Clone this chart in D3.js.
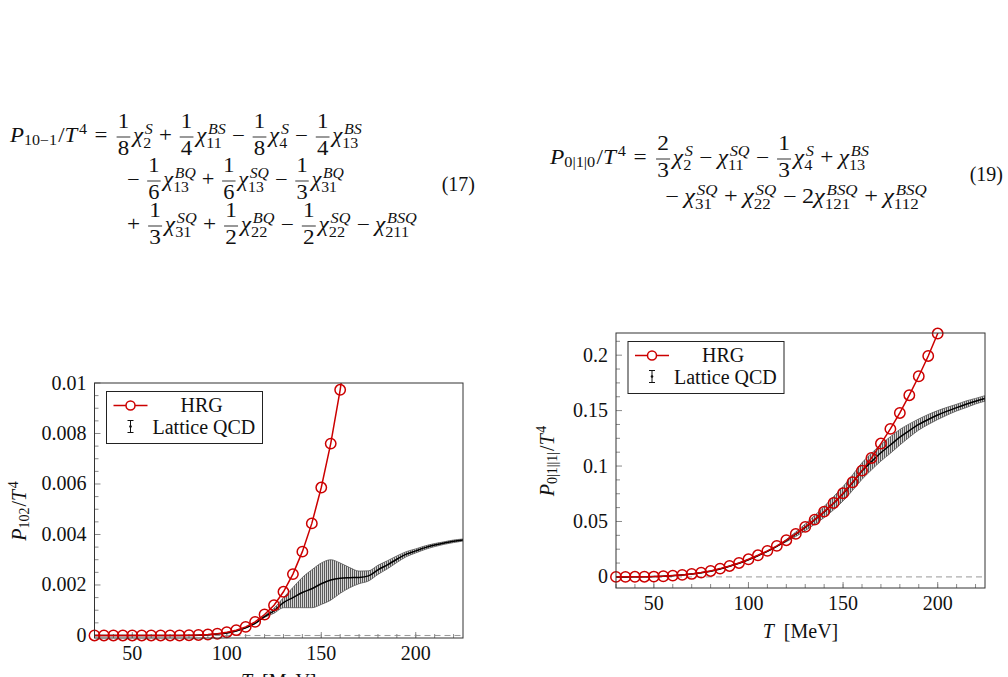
<!DOCTYPE html>
<html>
<head>
<meta charset="utf-8">
<script src="https://cdn.jsdelivr.net/npm/d3@7"></script>
<style>
  body { margin: 0; background: #fff; }
  svg text { font-family: 'Liberation Serif', 'DejaVu Serif', serif; fill: #111; }
</style>
</head>
<body>
<script>
// temperatures in MeV
const latticeT = [30, 35, 40, 45, 50, 55, 60, 65, 70, 75, 80, 85, 90, 95, 100, 105, 110, 115, 120, 125,
    130, 135, 140, 145, 150, 155, 160, 165, 170, 175, 180, 185, 190, 195, 200, 205, 210, 215, 220, 225];
const hrgT102 = [30, 35, 40, 45, 50, 55, 60, 65, 70, 75, 80, 85, 90, 95, 100, 105, 110, 115, 120, 125,
    130, 135, 140, 145, 150, 155, 160, 165];
const hrgT0110 = [30, 35, 40, 45, 50, 55, 60, 65, 70, 75, 80, 85, 90, 95, 100, 105, 110, 115, 120, 125,
    130, 135, 140, 145, 150, 155, 160, 165, 170, 175, 180, 185, 190, 195, 200, 205];

// P_102 / T^4
const hrg102 = [0, 0, 0, 0, 0, 0, 0, 0, 0, 0, 0.00001, 0.00002, 0.00004, 0.00007, 0.00013, 0.00021, 0.00034, 0.00054,
    0.00083, 0.0012, 0.00173, 0.00243, 0.00332, 0.00444, 0.00586, 0.0076, 0.00973, 0.0123];
const lqcd102 = [0, 0, 0, 0, 0, 0, 0, 0, 0, 0, 0, 0.00001, 0.00003, 0.00006, 0.0001, 0.00018, 0.0003, 0.00048,
    0.00075, 0.00098, 0.0013, 0.0015, 0.0017, 0.00185, 0.00205, 0.0022, 0.00227, 0.00229, 0.0023, 0.00236,
    0.0026, 0.0028, 0.00302, 0.00322, 0.00335, 0.00348, 0.00358, 0.00366, 0.00373, 0.00378];
const lqcd102Err = [0, 0, 0, 0, 0, 0, 0, 0, 0, 0, 0, 0, 0, 0, 0, 0, 0, 0,
    0.00003, 0.0001, 0.0002, 0.0004, 0.0006, 0.00075, 0.00082, 0.0008, 0.0006, 0.0004, 0.00025, 0.0002,
    0.00018, 0.00016, 0.00013, 0.0001, 0.00008, 0.00007, 0.00006, 0.00005, 0.00005, 0.00004];

// P_0|1||1| / T^4
const hrg0110 = [0, 0.00005, 0.0001, 0.0002, 0.0003, 0.0006, 0.0012, 0.0018, 0.0027, 0.0039, 0.0054, 0.0075,
    0.0099, 0.0126, 0.0159, 0.0195, 0.0235, 0.028, 0.0331, 0.0388, 0.0451, 0.0517, 0.0589, 0.0667, 0.0755,
    0.0854, 0.0959, 0.1073, 0.1203, 0.1335, 0.1479, 0.1639, 0.181, 0.1993, 0.2195, 0.241];
const lqcd0110 = [0, 0, 0.0001, 0.0002, 0.0003, 0.0006, 0.0011, 0.0017, 0.0026, 0.0037, 0.0052, 0.0072,
    0.0096, 0.0123, 0.0155, 0.0191, 0.0231, 0.0276, 0.0327, 0.0385, 0.0447, 0.0515, 0.0585, 0.0665, 0.075,
    0.085, 0.0955, 0.104, 0.112, 0.119, 0.126, 0.132, 0.1375, 0.142, 0.146, 0.1495, 0.1527, 0.1557, 0.1585, 0.161];
const lqcd0110Err = [0, 0, 0, 0, 0, 0, 0, 0, 0, 0, 0, 0, 0, 0, 0, 0, 0, 0,
    0.001, 0.002, 0.003, 0.004, 0.005, 0.006, 0.0065, 0.007, 0.0075, 0.0075, 0.0075, 0.0075,
    0.007, 0.006, 0.005, 0.0045, 0.004, 0.0035, 0.003, 0.003, 0.0025, 0.0025];

const xTicks = [50, 100, 150, 200];
const yTicks102 = [0, 0.002, 0.004, 0.006, 0.008, 0.01];
const yTickLabels102 = ['0', '0.002', '0.004', '0.006', '0.008', '0.01'];
const yTicks0110 = [0, 0.05, 0.1, 0.15, 0.2];
const yTickLabels0110 = ['0', '0.05', '0.1', '0.15', '0.2'];

const width = 1008, height = 677;
const FS = 20;
const red = '#cc0000';

let svg = d3.select('body').append('svg')
    .attr('width', width)
    .attr('height', height);

let defs = svg.append('defs');
let pat = defs.append('pattern').attr('id', 'bars')
    .attr('patternUnits', 'userSpaceOnUse')
    .attr('width', 2).attr('height', 4);
pat.append('rect').attr('width', 2).attr('height', 4).attr('fill', '#d4d4d4');
pat.append('rect').attr('width', 1).attr('height', 4).attr('fill', '#5a5a5a');

// tiny math typesetter: \f{a}{b} fractions, ^{..} _{..} scripts
function tex(g, x, y, src, fs) {
    const sfs = fs * 0.7;
    const toks = src.match(/\\f\{[^}]*\}\{[^}]*\}|\^\{[^}]*\}|_\{[^}]*\}|[=+−]|\s|./g);
    let cx = x;

    function run(str, px, py, size) {
        let w = 0;
        (str.match(/[A-Za-zχ]+|[^A-Za-zχ]+/g) || []).forEach(part => {
            let it = /[A-Za-zχ]/.test(part[0]);
            let t = g.append('text').attr('x', px + w).attr('y', py)
                .attr('font-size', size)
                .style('font-style', it ? 'italic' : 'normal')
                .text(part);
            w += t.node().getComputedTextLength();
        });
        return w;
    }
    function measure(str, size) {
        let tmp = g.append('g');
        let w = 0;
        (str.match(/[A-Za-zχ]+|[^A-Za-zχ]+/g) || []).forEach(part => {
            let t = tmp.append('text').attr('font-size', size)
                .style('font-style', /[A-Za-zχ]/.test(part[0]) ? 'italic' : 'normal').text(part);
            w += t.node().getComputedTextLength();
        });
        tmp.remove();
        return w;
    }

    for (let i = 0; i < toks.length; i++) {
        let tk = toks[i];
        if (tk.startsWith('\\f')) {
            let m = tk.match(/\\f\{([^}]*)\}\{([^}]*)\}/);
            let wn = measure(m[1], fs), wd = measure(m[2], fs);
            let w = Math.max(wn, wd) + 2;
            cx += 0.12 * fs;
            run(m[1], cx + (w - wn) / 2, y - 0.7 * fs, fs);
            run(m[2], cx + (w - wd) / 2, y + 0.65 * fs, fs);
            g.append('line').attr('x1', cx).attr('x2', cx + w)
                .attr('y1', y - 0.25 * fs).attr('y2', y - 0.25 * fs)
                .attr('stroke', '#111').attr('stroke-width', 0.8);
            cx += w + 0.12 * fs;
        } else if (tk[0] === '^' || tk[0] === '_') {
            let sup = null, sub = null;
            if (tk[0] === '^') sup = tk.slice(2, -1); else sub = tk.slice(2, -1);
            let nx = toks[i + 1];
            if (nx && (nx[0] === '^' || nx[0] === '_') && nx[0] !== tk[0]) {
                if (nx[0] === '^') sup = nx.slice(2, -1); else sub = nx.slice(2, -1);
                i++;
            }
            let both = sup !== null && sub !== null;
            let ws = 0, wb = 0;
            if (sup !== null) ws = run(sup, cx + 1.5, y - 0.42 * fs, sfs);
            if (sub !== null) wb = run(sub, cx, y + (both ? 0.3 : 0.17) * fs, sfs);
            cx += Math.max(ws + 1.5, wb) + 1;
        } else if (tk === '=' || tk === '+' || tk === '−') {
            let sp = (tk === '=' ? 0.28 : 0.22) * fs;
            cx += sp;
            cx += run(tk, cx, y, fs);
            cx += sp;
        } else if (tk === ' ') {
            cx += 0.25 * fs;
        } else {
            cx += run(tk, cx, y, fs);
        }
    }
    return cx - x;
}

// one displayed row, stretched to the width of the typeset original
function texRow(x, y, src, right) {
    let row = svg.append('g');
    let inner = row.append('g');
    let w = tex(inner, 0, y, src, FS);
    let s = (right - x) / w;
    inner.attr('transform', `translate(${x},0) scale(${s},1)`);
}

texRow(10, 142, 'P_{10−1}/T^{4}=\\f{1}{8}χ^{S}_{2}+\\f{1}{4}χ^{BS}_{11}−\\f{1}{8}χ^{S}_{4}−\\f{1}{4}χ^{BS}_{13}', 363);
texRow(122, 186, '−\\f{1}{6}χ^{BQ}_{13}+\\f{1}{6}χ^{SQ}_{13}−\\f{1}{3}χ^{BQ}_{31}', 345);
texRow(122, 231, '+\\f{1}{3}χ^{SQ}_{31}+\\f{1}{2}χ^{BQ}_{22}−\\f{1}{2}χ^{SQ}_{22}−χ^{BSQ}_{211}', 418);
svg.append('text').attr('x', 475).attr('y', 191).attr('text-anchor', 'end').attr('font-size', FS).text('(17)');

texRow(550, 164, 'P_{0|1|0}/T^{4}=\\f{2}{3}χ^{S}_{2}−χ^{SQ}_{11}−\\f{1}{3}χ^{S}_{4}+χ^{BS}_{13}', 870);
texRow(660, 203, '−χ^{SQ}_{31}+χ^{SQ}_{22}−2χ^{BSQ}_{121}+χ^{BSQ}_{112}', 928);
svg.append('text').attr('x', 1003).attr('y', 181).attr('text-anchor', 'end').attr('font-size', FS).text('(19)');

function chart(cfg) {
    let x = d3.scaleLinear().domain([30, 225]).range([cfg.x0, cfg.x1]);
    let y = d3.scaleLinear().domain(cfg.yDomain).range([cfg.y1, cfg.y0]);
    let g = svg.append('g');
    let clipId = 'clip' + cfg.id;
    defs.append('clipPath').attr('id', clipId).append('rect')
        .attr('x', cfg.x0).attr('y', cfg.y0)
        .attr('width', cfg.x1 - cfg.x0).attr('height', cfg.y1 - cfg.y0);

    // zero line
    g.append('line').attr('x1', cfg.x0).attr('x2', cfg.x1)
        .attr('y1', y(0)).attr('y2', y(0))
        .attr('stroke', '#999').attr('stroke-dasharray', '6,4');

    // minor + major ticks (inside)
    let yMinor = d3.range(0, cfg.yDomain[1] + 1e-9, cfg.yMinorStep);
    let tickG = g.append('g').attr('stroke', '#8a8a8a').attr('stroke-width', 1);
    yMinor.forEach(v => {
        let major = cfg.yTicks.some(t => Math.abs(t - v) < 1e-9);
        tickG.append('line').attr('x1', cfg.x0).attr('x2', cfg.x0 + (major ? 6 : 4))
            .attr('y1', y(v)).attr('y2', y(v));
    });
    d3.range(30, 226, 10).forEach(v => {
        tickG.append('line').attr('y1', cfg.y1).attr('y2', cfg.y1 - 4)
            .attr('x1', x(v)).attr('x2', x(v));
    });
    xTicks.forEach(v => {
        tickG.append('line').attr('y1', cfg.y1).attr('y2', cfg.y1 - 6)
            .attr('x1', x(v)).attr('x2', x(v));
    });

    // tick labels
    xTicks.forEach(v => {
        g.append('text').attr('x', x(v)).attr('y', cfg.y1 + 22)
            .attr('text-anchor', 'middle').attr('font-size', FS).text(v);
    });
    cfg.yTicks.forEach((v, i) => {
        g.append('text').attr('x', cfg.x0 - 8).attr('y', y(v) + 6.5)
            .attr('text-anchor', 'end').attr('font-size', FS).text(cfg.yTickLabels[i]);
    });

    // lattice band
    let plot = g.append('g').attr('clip-path', `url(#${clipId})`);
    let pts = latticeT.map((t, i) => ({t, m: cfg.lqcd[i], e: cfg.lqcdErr[i]}));
    let band = d3.area().x(d => x(d.t)).y0(d => y(d.m - d.e)).y1(d => y(d.m + d.e))
        .curve(d3.curveMonotoneX);
    plot.append('path').attr('d', band(pts)).attr('fill', 'url(#bars)');
    let edgeHi = d3.line().x(d => x(d.t)).y(d => y(d.m + d.e)).curve(d3.curveMonotoneX);
    let edgeLo = d3.line().x(d => x(d.t)).y(d => y(d.m - d.e)).curve(d3.curveMonotoneX);
    plot.append('path').attr('d', edgeHi(pts)).attr('fill', 'none').attr('stroke', '#555').attr('stroke-width', 0.8);
    plot.append('path').attr('d', edgeLo(pts)).attr('fill', 'none').attr('stroke', '#555').attr('stroke-width', 0.8);
    let mid = d3.line().x(d => x(d.t)).y(d => y(d.m)).curve(d3.curveMonotoneX);
    plot.append('path').attr('d', mid(pts)).attr('fill', 'none').attr('stroke', '#000').attr('stroke-width', 1.5);

    // HRG
    let hp = cfg.hrgT.map((t, i) => ({t, v: cfg.hrg[i]}));
    let hl = d3.line().x(d => x(d.t)).y(d => y(d.v));
    plot.append('path').attr('d', hl(hp)).attr('fill', 'none').attr('stroke', red).attr('stroke-width', 1.5);
    g.selectAll(null).data(hp.filter(d => d.v <= cfg.yDomain[1])).enter().append('circle')
        .attr('cx', d => x(d.t)).attr('cy', d => y(d.v)).attr('r', 5.2)
        .attr('fill', 'none').attr('stroke', red).attr('stroke-width', 1.5);

    // frame
    g.append('rect').attr('x', cfg.x0).attr('y', cfg.y0)
        .attr('width', cfg.x1 - cfg.x0).attr('height', cfg.y1 - cfg.y0)
        .attr('fill', 'none').attr('stroke', '#333').attr('stroke-width', 1);

    // legend
    let lx = cfg.x0 + 12, ly = cfg.y0 + 8.5;
    let lg = g.append('g').attr('transform', `translate(${lx},${ly})`);
    lg.append('rect').attr('width', 156).attr('height', 52)
        .attr('fill', '#fff').attr('stroke', '#222').attr('stroke-width', 1);
    lg.append('line').attr('x1', 7).attr('x2', 41).attr('y1', 14).attr('y2', 14)
        .attr('stroke', red).attr('stroke-width', 1.5);
    lg.append('circle').attr('cx', 24).attr('cy', 14).attr('r', 4.5)
        .attr('fill', '#fff').attr('stroke', red).attr('stroke-width', 1.5);
    lg.append('text').attr('x', 74).attr('y', 20.5).attr('font-size', FS).text('HRG');
    let eb = lg.append('g').attr('stroke', '#111').attr('stroke-width', 1);
    eb.append('line').attr('x1', 24).attr('x2', 24).attr('y1', 29).attr('y2', 41);
    eb.append('line').attr('x1', 21).attr('x2', 27).attr('y1', 29).attr('y2', 29);
    eb.append('line').attr('x1', 21).attr('x2', 27).attr('y1', 41).attr('y2', 41);
    lg.append('circle').attr('cx', 24).attr('cy', 35).attr('r', 1.3).attr('fill', '#111');
    lg.append('text').attr('x', 46).attr('y', 42).attr('font-size', FS).text('Lattice QCD');

    // x label
    let xl = g.append('text').attr('x', (cfg.x0 + cfg.x1) / 2).attr('y', cfg.y1 + 50)
        .attr('text-anchor', 'middle').attr('font-size', FS);
    xl.append('tspan').style('font-style', 'italic').text('T');
    xl.append('tspan').text('\u2002[MeV]');

    // y label
    let yg = g.append('g').attr('transform', `translate(${cfg.yLabelX},${(cfg.y0 + cfg.y1) / 2}) rotate(-90)`);
    let inner = yg.append('g');
    let w = tex(inner, 0, 0, cfg.yLabel, FS);
    inner.attr('transform', `translate(${-w / 2},0)`);
}

chart({
    id: 'a', x0: 94.5, x1: 463, y0: 383, y1: 638,
    yDomain: [-0.0001, 0.01], yTicks: yTicks102, yTickLabels: yTickLabels102, yMinorStep: 0.0005,
    lqcd: lqcd102, lqcdErr: lqcd102Err, hrgT: hrgT102, hrg: hrg102,
    yLabelX: 26, yLabel: 'P_{102}/T^{4}'
});
chart({
    id: 'b', x0: 616, x1: 985, y0: 333, y1: 588,
    yDomain: [-0.01, 0.22], yTicks: yTicks0110, yTickLabels: yTickLabels0110, yMinorStep: 0.0125,
    lqcd: lqcd0110, lqcdErr: lqcd0110Err, hrgT: hrgT0110, hrg: hrg0110,
    yLabelX: 554, yLabel: 'P_{0|1||1|}/T^{4}'
});
</script>
</body>
</html>
